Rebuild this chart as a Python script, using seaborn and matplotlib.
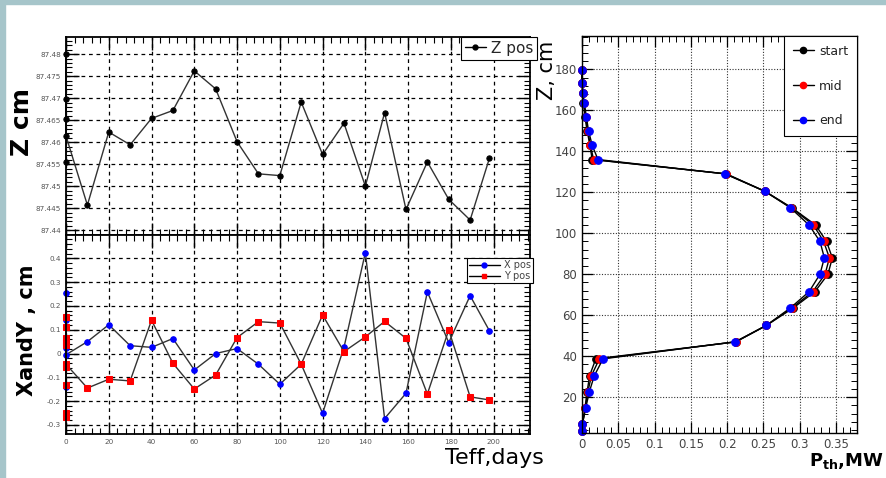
import matplotlib
matplotlib.use("Agg")
import matplotlib.pyplot as plt
import seaborn as sns
from matplotlib.ticker import MultipleLocator, FuncFormatter
from matplotlib.lines import Line2D
from matplotlib.patches import Rectangle

# ---- Z position vs effective days ----
z_days = [0, 0, 0, 0, 0, 10, 20, 30, 40, 50, 60, 70, 80, 90, 100,
          110, 120, 130, 140, 149, 159, 169, 179, 189, 198]
z_pos = [87.4555, 87.4800, 87.4697, 87.4652, 87.4614, 87.4457, 87.4623,
         87.4594, 87.4654, 87.4672, 87.4762, 87.4721, 87.4601, 87.4528,
         87.4524, 87.4691, 87.4572, 87.4643, 87.4500, 87.4667, 87.4447,
         87.4555, 87.4470, 87.4423, 87.4563]

# ---- X and Y positions vs effective days ----
x_days = [0, 0, 0, 0, 0, 0, 0, 10, 20, 30, 40, 50, 60, 70, 80, 90, 100,
          110, 120, 130, 140, 149, 159, 169, 179, 189, 198]
x_pos = [0.254, 0.155, 0.141, 0.043, 0.025, -0.140, -0.005, 0.050, 0.121,
         0.033, 0.026, 0.063, -0.069, 0.000, 0.021, -0.045, -0.129, -0.045,
         -0.251, 0.026, 0.424, -0.273, -0.167, 0.259, 0.046, 0.243, 0.096]
y_days = [0, 0, 0, 0, 0, 0, 0, 0, 0, 0, 10, 20, 30, 40, 50, 60, 70, 80,
          90, 100, 110, 120, 130, 140, 149, 159, 169, 179, 189, 198]
y_pos = [0.152, 0.110, 0.064, 0.050, 0.036, -0.132, -0.248, -0.268, -0.055,
         -0.045, -0.145, -0.108, -0.115, 0.140, -0.041, -0.149, -0.090,
         0.067, 0.134, 0.128, -0.045, 0.162, 0.008, 0.070, 0.135, 0.064,
         -0.170, 0.099, -0.182, -0.195]

# ---- Axial thermal power profile ----
z_cm = [179.5, 173.5, 168.5, 163.5, 157, 150, 143, 136, 129, 120.5, 112.5,
        104, 96, 88, 80, 71.5, 63.5, 55, 47, 38.7, 30.5, 22.5, 14.5, 6.8, 3.5]
p_start = [0, 0, 0.001, 0.002, 0.004, 0.007, 0.011, 0.014, 0.199, 0.252,
           0.289, 0.322, 0.337, 0.345, 0.339, 0.321, 0.291, 0.254, 0.212,
           0.019, 0.0105, 0.007, 0.004, 0.0005, 0]
p_mid = [0, 0, 0.0012, 0.0025, 0.005, 0.008, 0.0115, 0.016, 0.198, 0.252,
         0.288, 0.319, 0.333, 0.341, 0.335, 0.318, 0.289, 0.254, 0.212,
         0.024, 0.013, 0.008, 0.0045, 0.0005, 0]
p_end = [0, 0, 0.0014, 0.0032, 0.006, 0.009, 0.014, 0.022, 0.197, 0.252,
         0.287, 0.313, 0.328, 0.334, 0.328, 0.313, 0.287, 0.254, 0.211,
         0.029, 0.017, 0.010, 0.005, 0.0005, 0]

sns.set_style("ticks")
plt.rcParams["font.family"] = ["DejaVu Sans"]

W, H = 887, 478
fig = plt.figure(figsize=(W / 100, H / 100), dpi=100)
fig.patch.set_facecolor("white")


def frac(x0, y0, x1, y1):
    return [x0 / W, 1 - y1 / H, (x1 - x0) / W, (y1 - y0) / H]


ax_z = fig.add_axes(frac(66, 37, 530, 235))
ax_xy = fig.add_axes(frac(66, 235, 530, 434), sharex=ax_z)
ax_p = fig.add_axes(frac(582, 36, 857, 433))

tick_col = "#555555"


def style_left(ax):
    ax.grid(True, which="major", linestyle=(0, (3, 3)), color="black", lw=0.9)
    ax.tick_params(which="both", direction="in", top=True, right=True,
                   colors="black", labelcolor=tick_col, labelsize=5.2)
    ax.tick_params(which="major", length=9, width=1.0)
    ax.tick_params(which="minor", length=4.5, width=0.8)
    for s in ax.spines.values():
        s.set_linewidth(1.3)
        s.set_color("black")


gfmt = FuncFormatter(lambda v, p: "%g" % round(v, 6))

# Z position panel
sns.lineplot(x=z_days, y=z_pos, ax=ax_z, sort=False, estimator=None,
             color="#333333", lw=1.0, marker="o", markersize=3.8,
             markerfacecolor="black", markeredgecolor="black", clip_on=False)
ax_z.set_xlim(0, 217)
ax_z.set_ylim(87.4389, 87.4839)
ax_z.xaxis.set_major_locator(MultipleLocator(20))
ax_z.xaxis.set_minor_locator(MultipleLocator(4))
ax_z.yaxis.set_major_locator(MultipleLocator(0.005))
ax_z.yaxis.set_minor_locator(MultipleLocator(0.001))
ax_z.yaxis.set_major_formatter(gfmt)
style_left(ax_z)
ax_z.tick_params(labelbottom=False)
ax_z.set_xlabel("")
ax_z.set_ylabel("")
leg_z = ax_z.legend(handles=[Line2D([], [], color="black", lw=1.0, marker="o",
                                    markersize=3.5)],
                    labels=["Z pos"], loc="upper right",
                    bbox_to_anchor=(1.015, 1.0), borderaxespad=0,
                    fontsize=11, frameon=True, fancybox=False,
                    handlelength=1.4, handletextpad=0.3, borderpad=0.25)
leg_z.get_frame().set_edgecolor("black")
leg_z.get_frame().set_linewidth(0.8)
leg_z.get_frame().set_alpha(1)

# X / Y position panel
sns.lineplot(x=x_days, y=x_pos, ax=ax_xy, sort=False, estimator=None,
             color="#333333", lw=1.0, marker="o", markersize=4,
             markerfacecolor="blue", markeredgecolor="blue", clip_on=False)
sns.lineplot(x=y_days, y=y_pos, ax=ax_xy, sort=False, estimator=None,
             color="#333333", lw=1.0, marker="s", markersize=3.8,
             markerfacecolor="red", markeredgecolor="red", clip_on=False)
ax_xy.set_xlim(0, 217)
ax_xy.set_ylim(-0.338, 0.498)
ax_xy.xaxis.set_major_locator(MultipleLocator(20))
ax_xy.xaxis.set_minor_locator(MultipleLocator(4))
ax_xy.yaxis.set_major_locator(MultipleLocator(0.1))
ax_xy.yaxis.set_minor_locator(MultipleLocator(0.02))
ax_xy.yaxis.set_major_formatter(gfmt)
ax_xy.xaxis.set_major_formatter(gfmt)
style_left(ax_xy)
ax_xy.set_xlabel("")
ax_xy.set_ylabel("")
leg_xy = ax_xy.legend(
    handles=[Line2D([], [], color="black", lw=1.0, marker="o", markersize=3.5,
                    markerfacecolor="blue", markeredgecolor="blue"),
             Line2D([], [], color="black", lw=1.0, marker="s", markersize=3.5,
                    markerfacecolor="red", markeredgecolor="red")],
    labels=["X pos", "Y pos"], loc="upper right",
    bbox_to_anchor=(1.006, 0.884), borderaxespad=0, fontsize=7,
    frameon=True, fancybox=False, handlelength=3.2, handletextpad=0.4,
    borderpad=0.2, labelspacing=0.1, labelcolor="#444444")
leg_xy.get_frame().set_edgecolor("black")
leg_xy.get_frame().set_linewidth(0.8)
leg_xy.get_frame().set_alpha(1)

# Power profile panel
for vals, col in [(p_start, "black"), (p_mid, "red"), (p_end, "blue")]:
    sns.lineplot(x=vals, y=z_cm, ax=ax_p, sort=False, estimator=None,
                 color="black", lw=1.0, marker="o", markersize=5.5,
                 markerfacecolor=col, markeredgecolor=col, clip_on=False)
ax_p.set_xlim(0, 0.379)
ax_p.set_ylim(2.5, 196.3)
ax_p.xaxis.set_major_locator(MultipleLocator(0.05))
ax_p.xaxis.set_minor_locator(MultipleLocator(0.01))
ax_p.yaxis.set_major_locator(MultipleLocator(20))
ax_p.yaxis.set_minor_locator(MultipleLocator(4))
ax_p.xaxis.set_major_formatter(gfmt)
ax_p.grid(True, which="major", linestyle=(0, (1, 1.5)), color="#333333",
          lw=0.8)
ax_p.tick_params(which="both", direction="in", top=True, right=True,
                 colors="black", labelcolor="#444444", labelsize=8.5)
ax_p.tick_params(which="major", length=8, width=0.9)
ax_p.tick_params(which="minor", length=4, width=0.7)
for s in ax_p.spines.values():
    s.set_linewidth(1.0)
    s.set_color("black")
ax_p.set_xlabel("")
ax_p.set_ylabel("")
leg_p = ax_p.legend(
    handles=[Line2D([], [], color="black", lw=1.0, marker="o", markersize=4.5,
                    markerfacecolor=c, markeredgecolor=c)
             for c in ["black", "red", "blue"]],
    labels=["start", "mid", "end"], loc="upper right",
    bbox_to_anchor=(1.0, 1.0), borderaxespad=0, fontsize=9,
    frameon=True, fancybox=False, handlelength=1.7, handletextpad=0.4,
    borderpad=0.7, labelspacing=1.75, labelcolor="#222222")
leg_p.get_frame().set_edgecolor("black")
leg_p.get_frame().set_linewidth(0.8)
leg_p.get_frame().set_alpha(1)

# Axis titles
def ftxt(x, y, s, size, rot=0, ha="center", **kw):
    fig.text(x / W, 1 - y / H, s, fontsize=size, rotation=rot,
             ha=ha, va="center", color="black", **kw)


ftxt(22, 122, "Z cm", 18, 90, fontweight="bold")
ftxt(27, 330, "XandY , cm", 15, 90, fontweight="bold")
ftxt(494, 458, "Teff,days", 16)
ftxt(547, 70, "Z, cm", 15, 90)
ftxt(884, 461, r"P$_{\mathbf{th}}$,MW", 13, ha="right", fontweight="bold")

# Frame band along the top and left edges
band = "#a6c5ca"
fig.add_artist(Rectangle((0, 0), 5 / W, 1, transform=fig.transFigure,
                         color=band, zorder=-1))
fig.add_artist(Rectangle((0, 1 - 4 / H), 1, 4 / H, transform=fig.transFigure,
                         color=band, zorder=-1))

fig.savefig("out.png", dpi=100)
